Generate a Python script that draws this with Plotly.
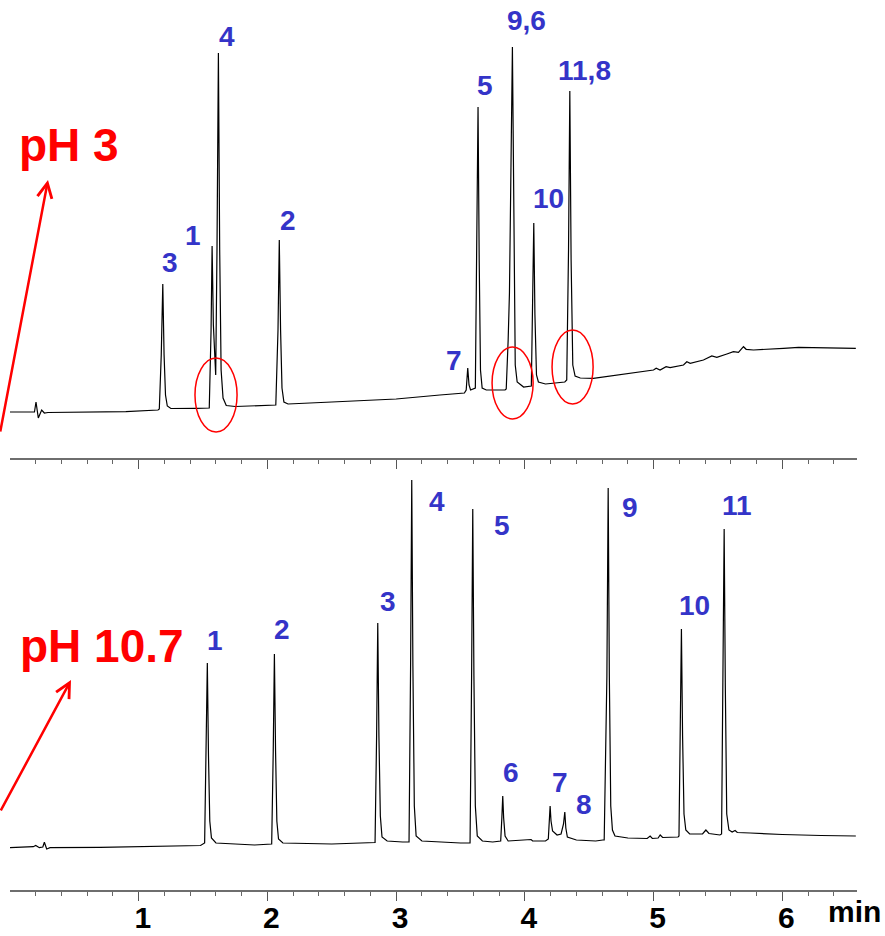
import numpy as np
import plotly.graph_objects as go

# ---- pH 3 chromatogram: retention time (min) and detector signal (a.u.) ----
ph3_time = [0.000, 0.190, 0.202, 0.220, 0.246, 0.267, 0.295, 0.600, 0.900, 1.150,
            1.160, 1.175, 1.187, 1.197, 1.208, 1.222, 1.250, 1.450,
            1.548, 1.562, 1.570, 1.580, 1.598, 1.608, 1.619, 1.629, 1.640, 1.655, 1.680, 1.750,
            2.065, 2.082, 2.092, 2.102, 2.113, 2.128, 2.160,
            2.500, 3.000, 3.340, 3.530,
            3.544, 3.556, 3.566, 3.578,
            3.615, 3.627, 3.636, 3.645, 3.655, 3.668, 3.700, 3.846,
            3.855, 3.870, 3.880, 3.903, 3.913, 3.925, 3.940, 3.990,
            4.050, 4.060, 4.069, 4.078, 4.090, 4.105, 4.160, 4.310,
            4.325, 4.339, 4.349, 4.359, 4.372, 4.390, 4.430,
            4.532, 4.817, 4.999, 5.020, 5.050, 5.097, 5.128, 5.232, 5.258, 5.284,
            5.387, 5.452, 5.491, 5.569, 5.620, 5.659, 5.698, 5.719, 5.776, 6.009,
            6.126, 6.571]
ph3_signal = [-2.0, -2.0, 8.0, -8.0, 0.0, -3.0, -2.5, -2.0, -1.7, 0.0,
              1.0, 55, 126, 55, 15, 4.0, 1.5, 1.7,
              2.0, 80, 164, 85, 35, 160, 357, 160, 40, 12, 4.5, 3.5,
              5.0, 80, 170, 80, 22, 8.0, 6.0,
              8.0, 11.0, 15.0, 17.0,
              20, 42, 25, 20,
              22, 150, 303, 150, 40, 22, 20, 20,
              21, 70, 117, 363, 170, 45, 28, 23,
              24, 100, 187, 95, 35, 28, 26, 28,
              30, 160, 319, 150, 45, 34, 32,
              31.7, 36.7, 40.0, 41.7, 40.0, 43.3, 42.3, 45.0, 48.3, 46.7,
              50.0, 54.0, 52.7, 56.0, 58.3, 57.7, 63.3, 60.7, 60.0, 61.7,
              62.7, 61.7]

# ---- pH 10.7 chromatogram ----
ph107_time = [0.000, 0.181, 0.200, 0.228, 0.255, 0.267, 0.285, 0.311, 0.699, 1.347, 1.480,
              1.512, 1.524, 1.533, 1.542, 1.552, 1.565, 1.600, 1.900,
              2.033, 2.045, 2.054, 2.063, 2.073, 2.086, 2.120, 2.500, 2.800,
              2.836, 2.848, 2.857, 2.866, 2.877, 2.890, 2.930, 3.050,
              3.100, 3.112, 3.121, 3.130, 3.141, 3.155, 3.200, 3.500,
              3.574, 3.586, 3.595, 3.604, 3.615, 3.630, 3.670, 3.750,
              3.812, 3.821, 3.828, 3.835, 3.846, 3.870, 4.048, 4.060, 4.160,
              4.182, 4.190, 4.196, 4.203, 4.215, 4.250, 4.281,
              4.300, 4.310, 4.318, 4.330, 4.400, 4.550, 4.605,
              4.616, 4.637, 4.647, 4.656, 4.667, 4.680, 4.700, 4.800, 4.950, 4.973,
              4.990, 5.035, 5.051, 5.070, 5.190,
              5.197, 5.207, 5.216, 5.225, 5.236, 5.250, 5.280, 5.380, 5.406, 5.430, 5.515,
              5.528, 5.539, 5.548, 5.557, 5.568, 5.585, 5.610, 5.633, 5.650, 5.750,
              6.000, 6.300, 6.571]
ph107_signal = [-1.7, -0.7, 0.5, -1.7, -1.0, 3.7, -3.0, -1.7, -1.3, 0.0, 0.5,
                3, 90, 183, 90, 25, 8, 3, 1,
                2, 95, 192, 95, 25, 7, 3, 2, 3,
                3.5, 110, 223, 110, 30, 9, 5, 4,
                4, 180, 366, 180, 40, 10, 5, 3,
                3, 170, 337, 170, 40, 10, 5, 4,
                5, 28, 50, 28, 10, 5, 6.5, 5, 5,
                7, 25, 40, 25, 15, 11, 12,
                22, 34, 18, 9, 6, 5, 6,
                6, 170, 358, 170, 40, 16, 10, 8, 7.5, 10,
                7.5, 8, 11, 8.5, 9,
                10, 110, 217, 110, 32, 16, 12, 12, 16, 12.5, 11,
                12, 160, 317, 160, 32, 16, 14, 15.5, 13.5, 13,
                11.5, 10.5, 10]

# ---- peak identification ----
ph3_peak_names = ["3", "1", "4", "2", "7", "5", "9,6", "10", "11,8"]
ph3_peak_times = [1.187, 1.570, 1.619, 2.092, 3.556, 3.636, 3.903, 4.069, 4.349]
ph107_peak_names = ["1", "2", "3", "4", "5", "6", "7", "8", "9", "10", "11"]
ph107_peak_times = [1.533, 2.054, 2.857, 3.121, 3.595, 3.828, 4.196, 4.310, 4.647, 5.216, 5.548]

# axis ticks (min)
major_ticks = [1, 2, 3, 4, 5, 6]
major_tick_text = ["1", "2", "3", "4", "5", "6"]
minor_ticks = [round(0.2 * k, 1) for k in range(1, 33)]

# label placement relative to each apex, in pixels (dx, dy-up)
ph3_label_shift = [(7, 22), (-19, 11), (9, 17), (9, 20), (-14, 8), (7, 22), (14, 27), (15, 25), (15, 21)]
ph107_label_shift = [(8, 23), (8, 25), (10, 22), (25, -22), (29, -16), (8, 24), (10, 24), (19, 8),
                     (22, -20), (13, 24), (13, 24)]

# areas of interest in the pH 3 run: (t0, t1, s0, s1)
ph3_highlights = [(1.437, 1.764, -22, 52), (3.745, 4.064, -9, 63), (4.211, 4.530, 6, 80)]

W, H = 885, 936
M_L, M_R, M_T, M_B = 10, 28, 0, 46
PLOT_H = H - M_T - M_B
X_RANGE = [0, 6.58]

BLUE = "#3434C8"
RED = "#FF0000"
LABEL_FONT = dict(family="Arial, Liberation Sans, sans-serif", size=28, color=BLUE, weight="bold")

fig = go.Figure()
fig.add_trace(go.Scatter(x=ph3_time, y=ph3_signal, mode="lines",
                         line=dict(color="black", width=1.2), xaxis="x", yaxis="y",
                         showlegend=False, hoverinfo="skip"))
fig.add_trace(go.Scatter(x=ph107_time, y=ph107_signal, mode="lines",
                         line=dict(color="black", width=1.2), xaxis="x2", yaxis="y2",
                         showlegend=False, hoverinfo="skip"))

annotations = []


def peak_labels(names, times, trace_t, trace_s, shifts, xref, yref):
    for name, t, (dx, dy) in zip(names, times, shifts):
        apex = float(np.interp(t, trace_t, trace_s))
        annotations.append(dict(x=t, y=apex, xref=xref, yref=yref, text=name,
                                showarrow=False, xanchor="center", yanchor="middle",
                                xshift=dx, yshift=dy, font=LABEL_FONT))


peak_labels(ph3_peak_names, ph3_peak_times, ph3_time, ph3_signal, ph3_label_shift, "x", "y")
peak_labels(ph107_peak_names, ph107_peak_times, ph107_time, ph107_signal, ph107_label_shift, "x2", "y2")


def px(xp):
    return (xp - M_L) / (W - M_L - M_R)


def py(yp):
    return (H - M_B - yp) / PLOT_H


# condition labels with pointer arrows
for text, cx, cy, tip, tail in [("pH 3", 69, 145, (48, 180), (-10, 433)),
                                ("pH 10.7", 102, 646, (71, 680), (-10, 812))]:
    annotations.append(dict(x=px(cx), y=py(cy), xref="paper", yref="paper", text=text,
                            showarrow=False, xanchor="center", yanchor="middle",
                            font=dict(family="Arial, Liberation Sans, sans-serif", size=46,
                                      color=RED, weight="bold")))
    annotations.append(dict(x=px(tip[0]), y=py(tip[1]), xref="paper", yref="paper", text="",
                            showarrow=True, arrowhead=5, arrowsize=1.15, arrowwidth=2.5,
                            arrowcolor=RED, ax=tail[0] - tip[0], ay=tail[1] - tip[1]))

annotations.append(dict(x=px(854), y=py(911), xref="paper", yref="paper", text="min",
                        showarrow=False, xanchor="center", yanchor="middle",
                        font=dict(family="Arial, Liberation Sans, sans-serif", size=30,
                                  color="black", weight="bold")))

shapes = [dict(type="circle", xref="x", yref="y", x0=a, x1=b, y0=c, y1=d,
               line=dict(color=RED, width=1.5)) for a, b, c, d in ph3_highlights]

axis_common = dict(range=X_RANGE, showline=True, linecolor="#6e6e6e", linewidth=2,
                   ticks="outside", tickvals=major_ticks, ticktext=major_tick_text,
                   ticklen=9, tickwidth=1.3, tickcolor="#555555",
                   minor=dict(tickvals=minor_ticks, ticks="outside", ticklen=4,
                              tickwidth=1, tickcolor="#666666"),
                   showgrid=False, zeroline=False, fixedrange=True, automargin=False)

top_bottom_px = 458
bottom_top_px = 470

fig.update_layout(
    width=W, height=H,
    margin=dict(l=M_L, r=M_R, t=M_T, b=M_B, autoexpand=False),
    paper_bgcolor="white", plot_bgcolor="white",
    xaxis=dict(domain=[0, 1], anchor="y", showticklabels=False, **axis_common),
    yaxis=dict(domain=[py(top_bottom_px), 1], range=[-48, 410], visible=False),
    xaxis2=dict(domain=[0, 1], anchor="y2", showticklabels=True,
                tickfont=dict(family="Arial, Liberation Sans, sans-serif", size=30,
                              color="black", weight="bold"),
                ticklabelshift=4, ticklabelstandoff=-9, **axis_common),
    yaxis2=dict(domain=[0, py(bottom_top_px)], range=[-44, 376], visible=False),
    annotations=annotations,
    shapes=shapes,
)

fig.write_html("out.html")
